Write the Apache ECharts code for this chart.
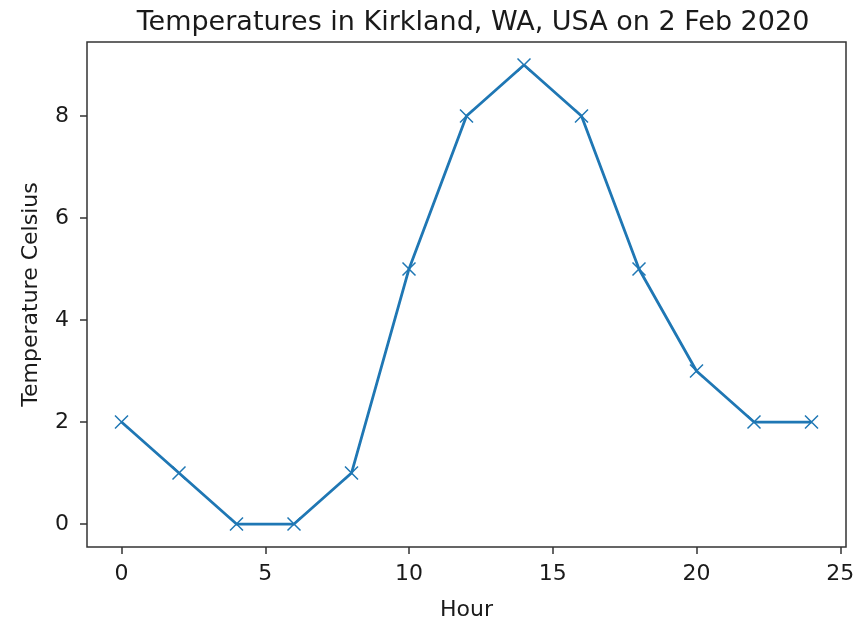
<!DOCTYPE html>
<html>
<head>
<meta charset="utf-8">
<script src="https://cdn.jsdelivr.net/npm/echarts@6/dist/echarts.min.js"></script>
<style>html,body{margin:0;padding:0;background:#fff;}#c{width:860px;height:617px;}</style>
</head>
<body>
<div id="c"></div>
<script>
const hours = [0, 2, 4, 6, 8, 10, 12, 14, 16, 18, 20, 22, 24];
const temps = [2, 1, 0, 0, 1, 5, 8, 9, 8, 5, 3, 2, 2];
const xTicks = [0, 5, 10, 15, 20, 25];
const yTicks = [0, 2, 4, 6, 8];
const titleText = 'Temperatures in Kirkland, WA, USA on 2 Feb 2020';
const xName = 'Hour';
const yName = 'Temperature Celsius';

const font = 'DejaVu Sans';
const chart = echarts.init(document.getElementById('c'), null, {renderer: 'canvas'});
chart.setOption({
  animation: false,
  backgroundColor: '#fff',
  title: {
    text: titleText, left: 468, textAlign: 'center', top: 4,
    textStyle: {fontFamily: font, fontSize: 27, fontWeight: 'normal', color: '#1a1a1a'}
  },
  grid: {left: 87, right: 14, top: 42, bottom: 70, show: true, borderColor: '#333', borderWidth: 1.5,
         backgroundColor: 'transparent', containLabel: false, outerBoundsMode: 'none'},
  xAxis: {
    type: 'value', min: -1.2, max: 25.2,
    name: xName, nameLocation: 'middle', nameGap: 52,
    nameTextStyle: {fontFamily: font, fontSize: 22, color: '#1a1a1a'},
    axisLine: {show: false, onZero: false},
    axisTick: {show: true, length: 7, lineStyle: {color: '#333', width: 1.5}, customValues: xTicks},
    axisLabel: {fontFamily: font, fontSize: 22, color: '#1a1a1a', margin: 16, customValues: xTicks},
    splitLine: {show: false}
  },
  yAxis: {
    type: 'value', min: -0.45, max: 9.45,
    name: yName, nameLocation: 'middle', nameGap: 45, nameRotate: 90,
    nameTextStyle: {fontFamily: font, fontSize: 22, color: '#1a1a1a'},
    axisLine: {show: false, onZero: false},
    axisTick: {show: true, length: 7, lineStyle: {color: '#333', width: 1.5}, customValues: yTicks},
    axisLabel: {fontFamily: font, fontSize: 22, color: '#1a1a1a', margin: 18, customValues: yTicks},
    splitLine: {show: false}
  },
  series: [{
    type: 'line',
    data: hours.map((h, i) => [h, temps[i]]),
    lineStyle: {color: '#1f77b4', width: 2.8},
    symbol: 'path://M0,0L10,10M10,0L0,10',
    symbolSize: 13,
    showAllSymbol: true,
    itemStyle: {color: 'rgba(0,0,0,0)', borderColor: '#1f77b4', borderWidth: 1.5},
    emphasis: {disabled: true}
  }]
});
</script>
</body>
</html>
